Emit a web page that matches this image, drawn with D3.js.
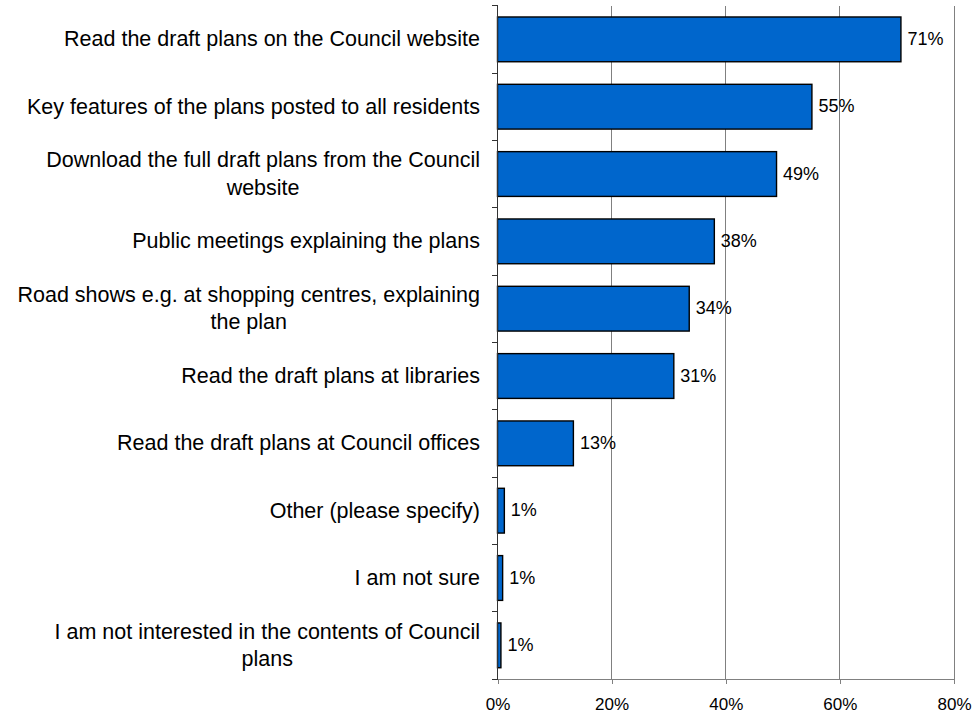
<!DOCTYPE html>
<html>
<head>
<meta charset="utf-8">
<script src="https://cdn.jsdelivr.net/npm/d3@7"></script>
<style>
  html, body { margin: 0; padding: 0; background: #fff; }
  svg { display: block; font-family: "Liberation Sans", Arial, sans-serif; }
</style>
</head>
<body>
<svg id="chart" width="974" height="715"></svg>
<script>
// Preferred ways of finding out about the draft plans (% of respondents)
const categories = [
  "Read the draft plans on the Council website",
  "Key features of the plans posted to all residents",
  "Download the full draft plans from the Council website",
  "Public meetings explaining the plans",
  "Road shows e.g. at shopping centres, explaining the plan",
  "Read the draft plans at libraries",
  "Read the draft plans at Council offices",
  "Other (please specify)",
  "I am not sure",
  "I am not interested in the contents of Council plans"
];
const values = [70.7, 55.1, 48.9, 38.0, 33.6, 30.9, 13.3, 1.2, 0.9, 0.6];
const xTicks = [0, 20, 40, 60, 80];

const svg = d3.select("#chart");
const plotLeft = 497.5, plotRight = 954, plotTop = 5.7, plotBottom = 679;

const x = d3.scaleLinear().domain([0, 80]).range([plotLeft, plotRight]);
const y = d3.scaleBand().domain(categories).range([plotTop, plotBottom])
  .paddingInner(0.335).paddingOuter(0.335 / 2);

// vertical gridlines
svg.append("g").selectAll("line")
  .data(xTicks.slice(1))
  .join("line")
  .attr("x1", d => x(d)).attr("x2", d => x(d))
  .attr("y1", plotTop).attr("y2", plotBottom)
  .attr("stroke", "#808080").attr("stroke-width", 1)
  .attr("shape-rendering", "crispEdges");

// bottom axis
const xAxis = svg.append("g")
  .attr("transform", `translate(0,${plotBottom})`)
  .call(d3.axisBottom(x).tickValues(xTicks).tickFormat(d => d + "%").tickSize(5).tickSizeOuter(0));
xAxis.select(".domain").attr("stroke", "#808080").attr("shape-rendering", "crispEdges");
xAxis.selectAll(".tick line").attr("stroke", "#808080").attr("shape-rendering", "crispEdges");
xAxis.selectAll(".tick text")
  .attr("font-family", "'Liberation Sans', Arial, sans-serif")
  .attr("font-size", 17).attr("fill", "#000").attr("y", 19);

// bars
svg.append("g").selectAll("rect")
  .data(categories)
  .join("rect")
  .attr("x", x(0))
  .attr("y", d => y(d))
  .attr("width", (d, i) => x(values[i]) - x(0))
  .attr("height", y.bandwidth())
  .attr("fill", "#0066CC")
  .attr("stroke", "#000").attr("stroke-width", 1.4);

// left axis with ticks at category boundaries
const bounds = d3.range(categories.length + 1).map(i => plotTop + i * y.step());
const yAxis = svg.append("g");
yAxis.append("line")
  .attr("x1", x(0)).attr("x2", x(0)).attr("y1", plotTop).attr("y2", plotBottom)
  .attr("stroke", "#333").attr("stroke-width", 1).attr("shape-rendering", "crispEdges");
yAxis.selectAll("line.tick")
  .data(bounds)
  .join("line").attr("class", "tick")
  .attr("x1", x(0) - 5.5).attr("x2", x(0))
  .attr("y1", d => d).attr("y2", d => d)
  .attr("stroke", "#333").attr("stroke-width", 1).attr("shape-rendering", "crispEdges");

// value labels
const fmt = d3.format(".0f");
svg.append("g").selectAll("text")
  .data(categories)
  .join("text")
  .attr("x", (d, i) => x(values[i]) + 6.5)
  .attr("y", d => y(d) + y.bandwidth() / 2)
  .attr("dy", "0.32em")
  .attr("font-size", 18)
  .attr("fill", "#000")
  .text((d, i) => fmt(values[i]) + "%");

// category labels, wrapped and centred within a right-aligned block
const labelRight = 480, maxWidth = 480, lineH = 27.4, catSize = 21.5;
const measure = svg.append("text").attr("font-size", catSize).attr("visibility", "hidden");
function textWidth(s) { measure.text(s); return measure.node().getComputedTextLength(); }
const labels = svg.append("g");
categories.forEach(cat => {
  const words = cat.split(" ");
  const lines = [];
  let cur = "";
  words.forEach(w => {
    const test = cur ? cur + " " + w : w;
    if (cur && textWidth(test) > maxWidth) { lines.push(cur); cur = w; }
    else cur = test;
  });
  lines.push(cur);
  const widths = lines.map(textWidth);
  const blockW = d3.max(widths);
  const cx = labelRight - blockW / 2;
  const cy = y(cat) + y.bandwidth() / 2;
  const t = labels.append("text")
    .attr("font-size", catSize).attr("fill", "#000").attr("text-anchor", "middle");
  lines.forEach((ln, j) => {
    t.append("tspan")
      .attr("x", cx)
      .attr("y", cy + (j - (lines.length - 1) / 2) * lineH)
      .attr("dy", "0.33em")
      .text(ln);
  });
});
measure.remove();
</script>
</body>
</html>
